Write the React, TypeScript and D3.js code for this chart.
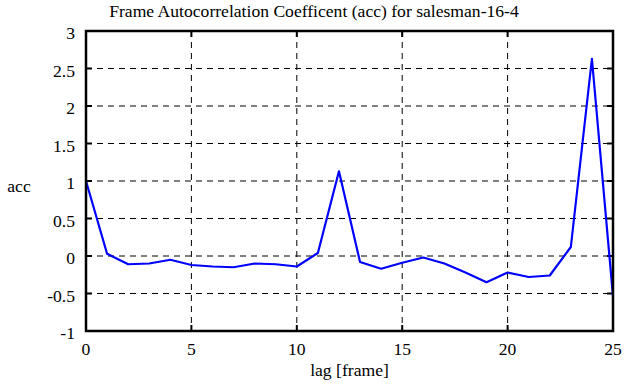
import { useEffect, useRef } from "react";
import * as d3 from "d3";

const lags = [0, 1, 2, 3, 4, 5, 6, 7, 8, 9, 10, 11, 12, 13, 14, 15, 16, 17, 18, 19, 20, 21, 22, 23, 24, 25];
const acc = [1.0, 0.03, -0.11, -0.1, -0.05, -0.12, -0.14, -0.15, -0.1, -0.11, -0.14, 0.04, 1.13, -0.08, -0.17, -0.09, -0.02, -0.1, -0.22, -0.35, -0.22, -0.28, -0.26, 0.12, 2.63, -0.54];
const xTicks = [0, 5, 10, 15, 20, 25];
const yTicks = [-1, -0.5, 0, 0.5, 1, 1.5, 2, 2.5, 3];

export default function App() {
  const ref = useRef<SVGSVGElement>(null);

  useEffect(() => {
    const W = 641, H = 387;
    const margin = { top: 31, right: 28, bottom: 56, left: 86 };
    const width = W - margin.left - margin.right;
    const height = H - margin.top - margin.bottom;
    const font = "'Times New Roman', Times, 'Liberation Serif', serif";
    const fs = 17.6;

    const svg = d3.select(ref.current);
    svg.selectAll("*").remove();
    svg.attr("width", W).attr("height", H);

    svg.append("rect").attr("width", W).attr("height", H).attr("fill", "white");

    const g = svg.append("g").attr("transform", `translate(${margin.left},${margin.top})`);

    const x = d3.scaleLinear().domain([0, 25]).range([0, width]);
    const y = d3.scaleLinear().domain([-1, 3]).range([height, 0]);

    // grid
    g.selectAll(".gx")
      .data(xTicks.slice(1, -1))
      .enter()
      .append("line")
      .attr("x1", (d) => x(d))
      .attr("x2", (d) => x(d))
      .attr("y1", 0)
      .attr("y2", height)
      .attr("stroke", "black")
      .attr("stroke-dasharray", "6,5");

    g.selectAll(".gy")
      .data(yTicks.slice(1, -1))
      .enter()
      .append("line")
      .attr("x1", 0)
      .attr("x2", width)
      .attr("y1", (d) => y(d))
      .attr("y2", (d) => y(d))
      .attr("stroke", "black")
      .attr("stroke-dasharray", "6,5");

    // inner ticks on all sides
    const tl = 6;
    xTicks.forEach((t) => {
      g.append("line").attr("x1", x(t)).attr("x2", x(t)).attr("y1", height).attr("y2", height - tl).attr("stroke", "black").attr("stroke-width", 2);
      g.append("line").attr("x1", x(t)).attr("x2", x(t)).attr("y1", 0).attr("y2", tl).attr("stroke", "black").attr("stroke-width", 2);
    });
    yTicks.forEach((t) => {
      g.append("line").attr("x1", 0).attr("x2", tl).attr("y1", y(t)).attr("y2", y(t)).attr("stroke", "black").attr("stroke-width", 2);
      g.append("line").attr("x1", width).attr("x2", width - tl).attr("y1", y(t)).attr("y2", y(t)).attr("stroke", "black").attr("stroke-width", 2);
    });

    // data line
    const line = d3
      .line<number>()
      .x((d, i) => x(lags[i]))
      .y((d) => y(d));
    g.append("path")
      .datum(acc)
      .attr("d", line)
      .attr("fill", "none")
      .attr("stroke", "#0000ff")
      .attr("stroke-width", 2.2)
      .attr("stroke-linejoin", "round");

    // frame
    g.append("rect")
      .attr("width", width)
      .attr("height", height)
      .attr("fill", "none")
      .attr("stroke", "black")
      .attr("stroke-width", 2.5);

    // tick labels
    g.selectAll(".xl")
      .data(xTicks)
      .enter()
      .append("text")
      .attr("x", (d) => x(d))
      .attr("y", height + 24)
      .attr("text-anchor", "middle")
      .style("font-family", font)
      .attr("font-size", fs)
      .text((d) => String(d));

    g.selectAll(".yl")
      .data(yTicks)
      .enter()
      .append("text")
      .attr("x", -11)
      .attr("y", (d) => y(d) + 8)
      .attr("text-anchor", "end")
      .style("font-family", font)
      .attr("font-size", fs)
      .text((d) => String(d));

    // titles
    svg.append("text")
      .attr("x", 314)
      .attr("y", 17)
      .attr("text-anchor", "middle")
      .style("font-family", font)
      .attr("font-size", fs)
      .text("Frame Autocorrelation Coefficent (acc) for salesman-16-4");

    svg.append("text")
      .attr("x", margin.left + width / 2)
      .attr("y", 376)
      .attr("text-anchor", "middle")
      .style("font-family", font)
      .attr("font-size", fs)
      .text("lag [frame]");

    svg.append("text")
      .attr("x", 19)
      .attr("y", 192)
      .attr("text-anchor", "middle")
      .style("font-family", font)
      .attr("font-size", fs)
      .text("acc");
  }, []);

  return <svg ref={ref} style={{ display: "block", position: "absolute", left: 0, top: 0 }} />;
}
